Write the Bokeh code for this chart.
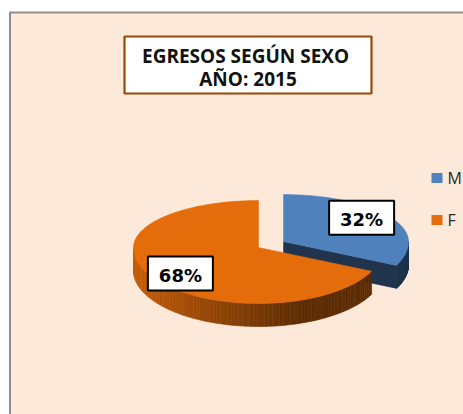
import numpy as np
from bokeh.plotting import figure
from bokeh.models import Range1d
from bokeh.core.properties import value
from bokeh.embed import file_html
from bokeh.resources import INLINE

# ---------------- data ----------------
title_lines = ["EGRESOS  SEGÚN SEXO", "AÑO: 2015"]
categories = ["M", "F"]
values = [32, 68]

# ---------------- style ----------------
top_colors = [(79, 129, 189), (228, 108, 10)]
explode = [0.237, 0.0]
BG = "#FDE9D9"

W, H = 463, 414
p = figure(width=W, height=H, x_range=Range1d(0, W), y_range=Range1d(H, 0),
           output_backend="svg", toolbar_location=None, min_border=0,
           x_axis_location=None, y_axis_location=None)
p.grid.visible = False
p.outline_line_color = None
p.background_fill_color = "white"
p.border_fill_color = "white"

# chart panel
p.quad(left=9.5, right=480, top=12, bottom=440, fill_color=BG,
       line_color="#8E8E8E", line_width=2)

# title box
p.rect(x=[247.5], y=[64.5], width=247, height=57, fill_color="white",
       line_color="#984807", line_width=2.2)
p.text(x=[247.5, 247.5], y=[55.0, 78.5], text=title_lines, text_align="center",
       text_baseline="middle", text_font=value("Open Sans"),
       text_font_style="bold", text_font_size="19px", text_color="#111111")

# ---------------- 3D pie ----------------
cx, cy = 258.0, 247.0
rx, ry_back, ry_front, depth = 125.0, 47.0, 56.0, 23.0


def ry_of(t):
    return np.where(np.cos(t) >= 0, ry_back, ry_front)


def pt(tdeg, ox, oy):
    t = np.radians(tdeg)
    return ox + rx * np.sin(t), oy - ry_of(t) * np.cos(t)


def shade(x):
    f = np.clip((x - 133.0) / 167.0, 0, 1)
    return 0.86 + (0.41 - 0.86) * f


def rgb(c, s):
    return "#%02x%02x%02x" % tuple(int(max(0, min(255, round(v * s)))) for v in c)


total = float(sum(values))
fracs = [v / total for v in values]
starts = np.concatenate([[0.0], np.cumsum(fracs)[:-1]]) * 360.0
ends = np.cumsum(fracs) * 360.0

label_pos = []
for i in range(len(values)):
    a0, a1 = starts[i], ends[i]
    mid = (a0 + a1) / 2
    tm = np.radians(mid)
    ox = cx + explode[i] * rx * np.sin(tm)
    oy = cy - explode[i] * float(ry_of(tm)) * np.cos(tm)
    col = top_colors[i]

    # cut faces
    for edge, normal in ((a0, a0 - 90), (a1, a1 + 90)):
        if np.cos(np.radians(normal)) < -1e-6:
            ex, ey = pt(edge, ox, oy)
            ex, ey = float(ex), float(ey)
            p.patch([ox, ex, ex, ox], [oy, ey, ey + depth, oy + depth],
                    fill_color=rgb(col, 0.41), line_color=rgb(col, 0.41), line_width=0.5)

    # outer wall (front half only)
    w0, w1 = max(a0, 90.0), min(a1, 270.0)
    if w1 > w0:
        n = 90
        ts = np.linspace(w0, w1, n + 1)
        xs, ys = pt(ts, ox, oy)
        px, py, cols = [], [], []
        for k in range(n):
            px.append([xs[k], xs[k + 1], xs[k + 1], xs[k]])
            py.append([ys[k], ys[k + 1], ys[k + 1] + depth, ys[k] + depth])
            cols.append(rgb(col, shade((xs[k] + xs[k + 1]) / 2)))
        p.patches(px, py, fill_color=cols, line_color=cols, line_width=0.6)

    # top face
    ts = np.linspace(a0, a1, 200)
    xs, ys = pt(ts, ox, oy)
    p.patch(np.concatenate([[ox], xs, [ox]]), np.concatenate([[oy], ys, [oy]]),
            fill_color=rgb(col, 1.0), line_color=rgb(col, 1.0), line_width=0.5)

    # label position
    lx = ox + 0.74 * rx * np.sin(tm)
    ly = oy - 0.9 * float(ry_of(tm)) * np.cos(tm) - 1.0
    label_pos.append((lx, ly))

# labels after all slices
lab_x = [lp[0] for lp in label_pos]
lab_y = [lp[1] for lp in label_pos]
lab_t = ["%d%%" % round(f * 100) for f in fracs]
p.rect(x=lab_x, y=lab_y, width=65, height=34, width_units="screen", height_units="screen",
       fill_color="white", line_color="black", line_width=2)
p.text(x=lab_x, y=[y + 1.5 for y in lab_y], text=lab_t, text_align="center",
       text_baseline="middle", text_font=value("DejaVu Sans"),
       text_font_style="bold", text_font_size="18px", text_color="black")

# ---------------- legend ----------------
leg_x, leg_y0, leg_dy = 436.5, 177.5, 42.0
leg_y = [leg_y0 + i * leg_dy for i in range(len(categories))]
p.rect(x=[leg_x] * len(categories), y=leg_y, width=11, height=10,
       width_units="screen", height_units="screen",
       fill_color=[rgb(c, 1.0) for c in top_colors], line_color=None)
p.text(x=[leg_x + 10.5] * len(categories), y=leg_y, text=categories,
       text_align="left", text_baseline="middle", text_font=value("Open Sans"),
       text_font_size="16px", text_color="#262626")

open("out.html", "w").write(file_html(p, INLINE))
